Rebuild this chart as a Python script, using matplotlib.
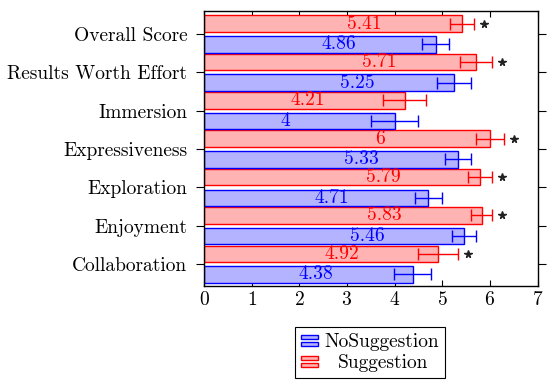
import matplotlib
matplotlib.use("Agg")
import matplotlib.pyplot as plt
import numpy as np
from matplotlib.patches import Rectangle
from matplotlib.legend_handler import HandlerBase

plt.rcParams['font.family'] = ['cmr10', 'DejaVu Serif']
plt.rcParams['mathtext.fontset'] = 'cm'
plt.rcParams['axes.formatter.use_mathtext'] = True

categories = ["Collaboration", "Enjoyment", "Exploration", "Expressiveness",
              "Immersion", "Results Worth Effort", "Overall Score"]
no_sugg = [4.38, 5.46, 4.71, 5.33, 4.00, 5.25, 4.86]
no_sugg_err = [0.39, 0.25, 0.29, 0.27, 0.50, 0.36, 0.29]
sugg = [4.92, 5.83, 5.79, 6.00, 4.21, 5.71, 5.41]
sugg_err = [0.42, 0.22, 0.25, 0.30, 0.46, 0.34, 0.25]
significant = [True, True, True, True, False, True, True]
value_labels_no = ["4.38", "5.46", "4.71", "5.33", "4", "5.25", "4.86"]
value_labels_s = ["4.92", "5.83", "5.79", "6", "4.21", "5.71", "5.41"]

fig = plt.figure(figsize=(5.52, 3.92), dpi=100)
ax = fig.add_axes([204/552, 1 - 286/392, (537.5 - 204)/552, (286 - 11)/392])

y = np.arange(len(categories))
off = 0.27
h = 0.43
red_fill = (1.0, 0.7, 0.7)
blue_fill = (0.7, 0.7, 1.0)

ax.barh(y + off, sugg, height=h, color=red_fill, edgecolor='red', linewidth=1.0, zorder=2)
ax.barh(y - off, no_sugg, height=h, color=blue_fill, edgecolor='blue', linewidth=1.0, zorder=2)
ax.errorbar(sugg, y + off, xerr=sugg_err, fmt='none', ecolor='red', elinewidth=1.0,
            capsize=4, capthick=1.0, zorder=3)
ax.errorbar(no_sugg, y - off, xerr=no_sugg_err, fmt='none', ecolor='blue', elinewidth=1.0,
            capsize=4, capthick=1.0, zorder=3)

for i in range(len(categories)):
    ax.text(sugg[i] - 2.4, y[i] + off, value_labels_s[i], color='red', fontsize=14,
            ha='left', va='center', zorder=4)
    ax.text(no_sugg[i] - 2.4, y[i] - off, value_labels_no[i], color='blue', fontsize=14,
            ha='left', va='center', zorder=4)
    if significant[i]:
        ax.plot(sugg[i] + sugg_err[i] + 0.21, y[i] + off, marker='*', color='#222222',
                markersize=5.5, linestyle='none', zorder=4)

ax.set_xlim(0, 7)
ax.set_ylim(-0.57, 6.6)
ax.set_xticks(range(0, 8))
ax.set_yticks(y)
ax.set_yticklabels(categories)
ax.tick_params(axis='x', direction='in', top=True, bottom=True, length=4, labelsize=14, width=0.8)
ax.tick_params(axis='y', direction='out', left=True, right=True, length=6, labelsize=14,
               width=0.8, pad=6)
for s in ax.spines.values():
    s.set_linewidth(1.0)


class TwoBarHandler(HandlerBase):
    def __init__(self, fc, ec):
        super().__init__()
        self.fc = fc
        self.ec = ec

    def create_artists(self, legend, orig_handle, xdescent, ydescent, width, height,
                       fontsize, trans):
        w = width * 0.85
        bh = height * 0.32
        r1 = Rectangle((-xdescent, -ydescent + height * 0.58), w, bh, facecolor=self.fc,
                       edgecolor=self.ec, linewidth=1.0, transform=trans)
        r2 = Rectangle((-xdescent, -ydescent + height * 0.05), w, bh, facecolor=self.fc,
                       edgecolor=self.ec, linewidth=1.0, transform=trans)
        return [r1, r2]


h_no = Rectangle((0, 0), 1, 1)
h_s = Rectangle((0, 0), 1, 1)
leg = ax.legend([h_no, h_s], ["NoSuggestion", "Suggestion"],
                handler_map={h_no: TwoBarHandler(blue_fill, 'blue'),
                             h_s: TwoBarHandler(red_fill, 'red')},
                loc='upper center', bbox_to_anchor=(370/552, 1 - 327/392),
                bbox_transform=fig.transFigure, borderaxespad=0, fontsize=14,
                frameon=True, fancybox=False, framealpha=1, edgecolor='black',
                handlelength=1.0, handletextpad=0.2, borderpad=0.3, labelspacing=0.15)
leg.get_frame().set_linewidth(0.8)
leg.get_texts()[1].set_position((14, 0))

fig.savefig("out.png", dpi=100)
